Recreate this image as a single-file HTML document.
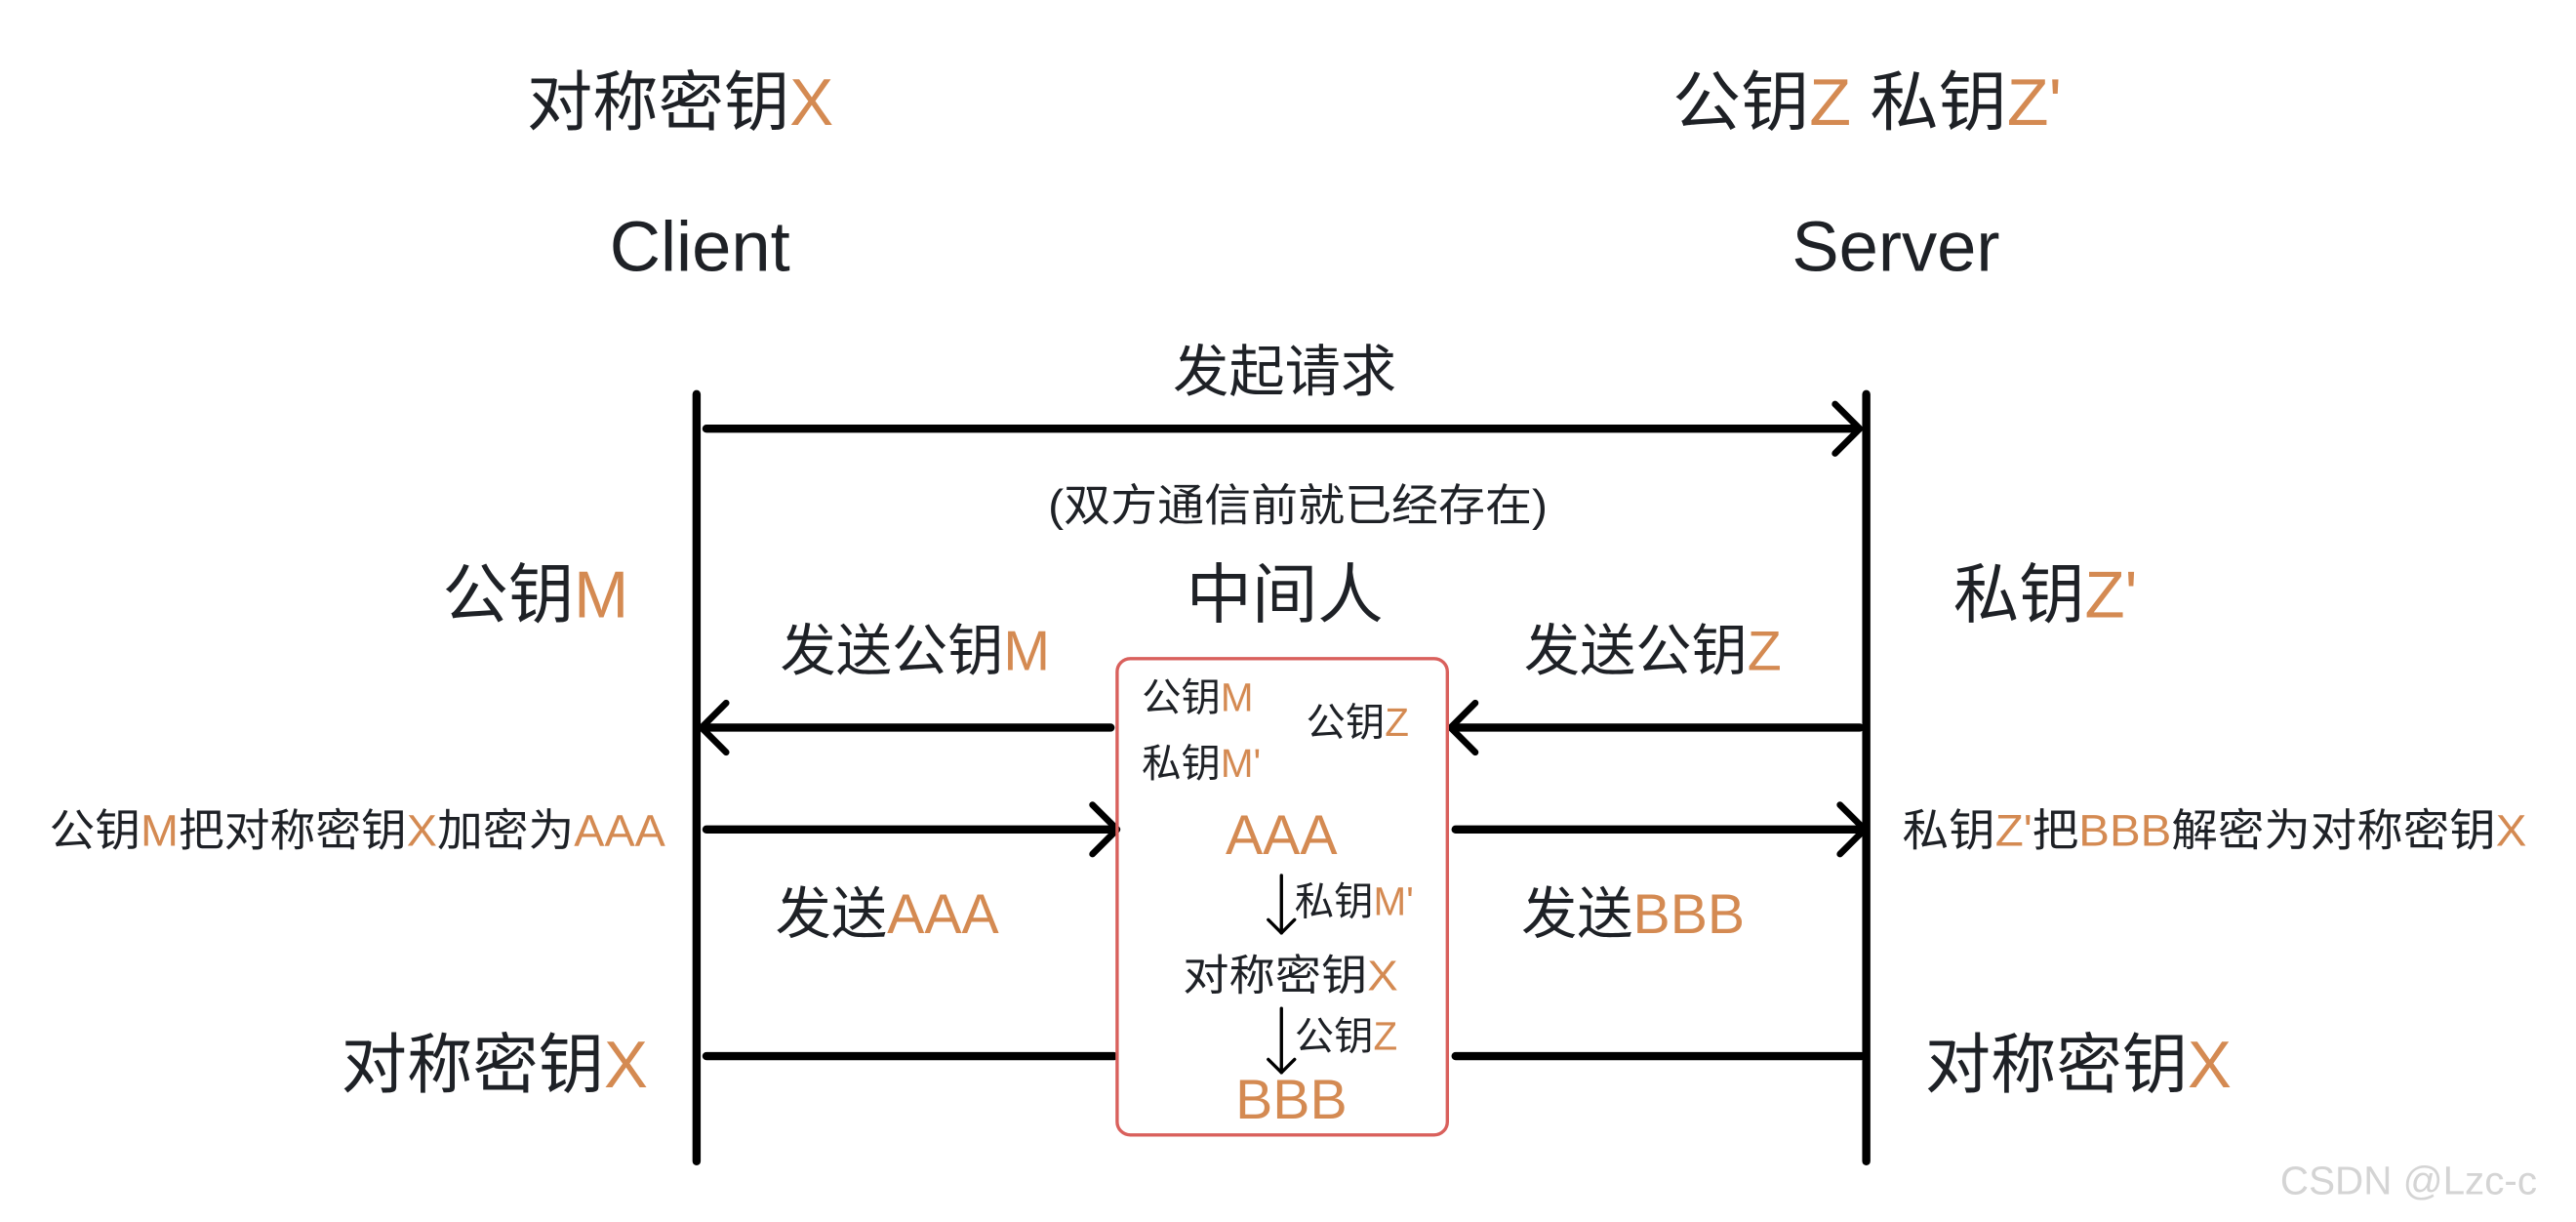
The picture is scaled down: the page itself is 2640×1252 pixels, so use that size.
<!DOCTYPE html>
<html><head><meta charset="utf-8"><style>
html,body{margin:0;padding:0;background:#fff;}
svg{display:block;}
text{font-family:"Liberation Sans","Noto Sans CJK SC",sans-serif;fill:#1e2126;}
.o{fill:#d48a52;}
</style></head><body>
<svg width="2640" height="1252" viewBox="0 0 1568 744" preserveAspectRatio="none" xmlns="http://www.w3.org/2000/svg">
<g fill="none" stroke="#000" stroke-linecap="round" stroke-linejoin="round">
<line x1="424" y1="240" x2="424" y2="707" stroke-width="5"/>
<line x1="1136" y1="240" x2="1136" y2="707" stroke-width="5"/>
<line x1="430" y1="261" x2="1130" y2="261" stroke-width="5"/>
<polyline points="1117,246 1132,261 1117,276" stroke-width="4"/>
<line x1="430" y1="443" x2="676" y2="443" stroke-width="5"/>
<polyline points="442,428 427,443 442,458" stroke-width="4"/>
<line x1="886" y1="443" x2="1132" y2="443" stroke-width="5"/>
<polyline points="898,428 883,443 898,458" stroke-width="4"/>
<line x1="430" y1="505" x2="676" y2="505" stroke-width="5"/>
<polyline points="665,490 680,505 665,520" stroke-width="4"/>
<line x1="886" y1="505" x2="1132" y2="505" stroke-width="5"/>
<polyline points="1120,490 1135,505 1120,520" stroke-width="4"/>
<line x1="430" y1="643" x2="678" y2="643" stroke-width="5"/>
<line x1="886" y1="643" x2="1133" y2="643" stroke-width="5"/>
<line x1="780" y1="533" x2="780" y2="568" stroke-width="2"/>
<polyline points="772,560 780,568 788,560" stroke-width="2"/>
<line x1="780" y1="614" x2="780" y2="653" stroke-width="2"/>
<polyline points="772,645 780,653 788,645" stroke-width="2"/>
</g>
<rect x="680" y="401" width="201" height="290" rx="8" fill="none" stroke="#d9605c" stroke-width="2"/>

<text x="414" y="76" font-size="40" text-anchor="middle">对称密钥<tspan class="o">X</tspan></text>
<text x="1018" y="76" font-size="40" textLength="237" lengthAdjust="spacingAndGlyphs">公钥<tspan class="o">Z</tspan> 私钥<tspan class="o">Z'</tspan></text>
<text x="426" y="165" font-size="43" text-anchor="middle">Client</text>
<text x="1154" y="165" font-size="43" text-anchor="middle">Server</text>
<text x="782" y="238" font-size="34" text-anchor="middle">发起请求</text>
<text x="638" y="317" font-size="27" textLength="304" lengthAdjust="spacingAndGlyphs">(双方通信前就已经存在)</text>
<text x="326" y="376" font-size="40" text-anchor="middle">公钥<tspan class="o">M</tspan></text>
<text x="782" y="376" font-size="40" text-anchor="middle">中间人</text>
<text x="1245" y="376" font-size="40" text-anchor="middle">私钥<tspan class="o">Z'</tspan></text>
<text x="557" y="408" font-size="34" text-anchor="middle">发送公钥<tspan class="o">M</tspan></text>
<text x="1006" y="408" font-size="34" text-anchor="middle">发送公钥<tspan class="o">Z</tspan></text>
<text x="695" y="433" font-size="24">公钥<tspan class="o">M</tspan></text>
<text x="695" y="473" font-size="24">私钥<tspan class="o">M'</tspan></text>
<text x="795" y="448" font-size="24">公钥<tspan class="o">Z</tspan></text>
<text x="30" y="515" font-size="27" textLength="375" lengthAdjust="spacingAndGlyphs">公钥<tspan class="o">M</tspan>把对称密钥<tspan class="o">X</tspan>加密为<tspan class="o">AAA</tspan></text>
<text x="1158" y="515" font-size="27" textLength="380" lengthAdjust="spacingAndGlyphs">私钥<tspan class="o">Z'</tspan>把<tspan class="o">BBB</tspan>解密为对称密钥<tspan class="o">X</tspan></text>
<text x="780" y="520" font-size="34" text-anchor="middle" class="o">AAA</text>
<text x="788" y="557" font-size="24">私钥<tspan class="o">M'</tspan></text>
<text x="540" y="568" font-size="34" text-anchor="middle">发送<tspan class="o">AAA</tspan></text>
<text x="994" y="568" font-size="34" text-anchor="middle">发送<tspan class="o">BBB</tspan></text>
<text x="720" y="603" font-size="26" textLength="131" lengthAdjust="spacingAndGlyphs">对称密钥<tspan class="o">X</tspan></text>
<text x="788" y="639" font-size="24">公钥<tspan class="o">Z</tspan></text>
<text x="786" y="681" font-size="34" text-anchor="middle" class="o">BBB</text>
<text x="301" y="662" font-size="40" text-anchor="middle">对称密钥<tspan class="o">X</tspan></text>
<text x="1265" y="662" font-size="40" text-anchor="middle">对称密钥<tspan class="o">X</tspan></text>
<text x="1388" y="727" font-size="24" style="fill:#d4d4d4">CSDN @Lzc-c</text>
</svg>
</body></html>
